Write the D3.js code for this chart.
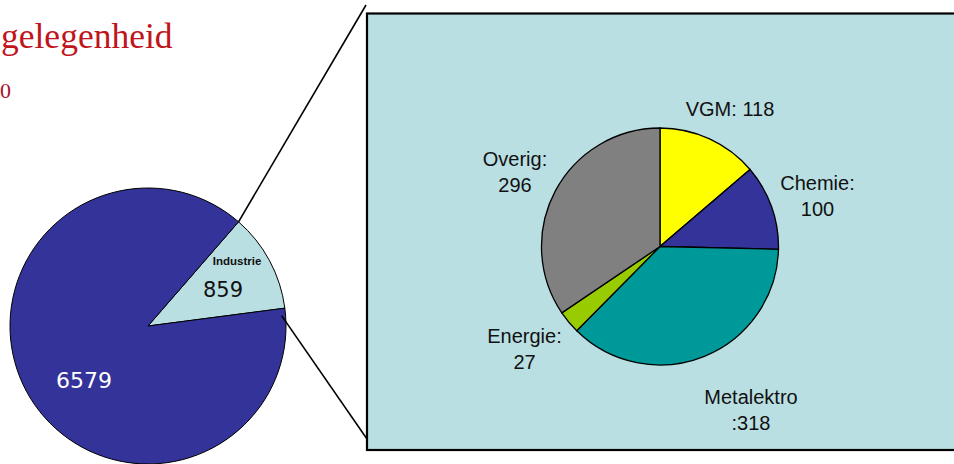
<!DOCTYPE html>
<html>
<head>
<meta charset="utf-8">
<script src="https://cdn.jsdelivr.net/npm/d3@7"></script>
<style>
  html, body { margin: 0; padding: 0; background: #fff; }
  svg { display: block; }
</style>
</head>
<body>
<svg id="chart" width="954" height="464"></svg>
<script>
// ---- data ----
const mainCategories = ["Industrie", "Overig"];
const mainValues = [859, 6579];
const subCategories = ["VGM", "Chemie", "Metalektro", "Energie", "Overig"];
const subValues = [118, 100, 318, 27, 296];
const subLabels = [["VGM: 118"], ["Chemie:", "100"], ["Metalektro", ":318"], ["Energie:", "27"], ["Overig:", "296"]];
const titleText = "gelegenheid";
const subtitleText = "0";

// ---- styles ----
const mainColors = ["#b9dfe3", "#333399"];
const subColors = ["#ffff00", "#333399", "#009999", "#99cc00", "#808080"];

const svg = d3.select("#chart");
const deg = Math.PI / 180;

// title
svg.append("text").attr("x", 1).attr("y", 48).attr("text-anchor", "start")
  .attr("font-family", "Liberation Serif, Times New Roman, serif")
  .attr("font-size", 35.5).attr("fill", "#c0141c").text(titleText);
svg.append("text").attr("x", 0).attr("y", 98).attr("text-anchor", "start")
  .attr("font-family", "Liberation Serif, Times New Roman, serif")
  .attr("font-size", 22).attr("fill", "#a8102c").text(subtitleText);

// detail box
svg.append("rect").attr("x", 367).attr("y", 13.5).attr("width", 620).attr("height", 436.5)
  .attr("fill", "#b9dfe3").attr("stroke", "#000").attr("stroke-width", 2.2);

// main pie
const mcx = 148, mcy = 326, mr = 138;
const mainPie = d3.pie().sort(null).startAngle(41 * deg).endAngle(41 * deg + 2 * Math.PI)(mainValues);
const mainArc = d3.arc().innerRadius(0).outerRadius(mr);
const mg = svg.append("g").attr("transform", `translate(${mcx},${mcy})`);
mg.selectAll("path").data(mainPie).join("path")
  .attr("d", mainArc).attr("fill", (d, i) => mainColors[i])
  .attr("stroke", "#000").attr("stroke-width", 1);

// connector lines from Industrie slice edges to the box
const ind = mainPie[0];
const p1 = [mcx + mr * Math.sin(ind.startAngle), mcy - mr * Math.cos(ind.startAngle)];
const p2 = [mcx + (mr - 4) * Math.sin(ind.endAngle + 3 * deg), mcy - (mr - 4) * Math.cos(ind.endAngle + 3 * deg)];
svg.append("line").attr("x1", p1[0]).attr("y1", p1[1]).attr("x2", 366).attr("y2", 5)
  .attr("stroke", "#000").attr("stroke-width", 1.6);
svg.append("line").attr("x1", p2[0]).attr("y1", p2[1]).attr("x2", 367).attr("y2", 439)
  .attr("stroke", "#000").attr("stroke-width", 1.6);

// main labels
mg.append("text").attr("x", 237 - mcx).attr("y", 265 - mcy).attr("text-anchor", "middle")
  .attr("font-family", "Liberation Sans, Arial, sans-serif").attr("font-weight", "bold")
  .attr("font-size", 11.5).attr("fill", "#111").text(mainCategories[0]);
mg.append("text").attr("x", 223 - mcx).attr("y", 297 - mcy).attr("text-anchor", "middle")
  .attr("font-family", "DejaVu Sans, Verdana, sans-serif")
  .attr("font-size", 21).attr("fill", "#111").text(mainValues[0]);
mg.append("text").attr("x", 84 - mcx).attr("y", 388 - mcy).attr("text-anchor", "middle")
  .attr("font-family", "DejaVu Sans, Verdana, sans-serif")
  .attr("font-size", 22).attr("fill", "#fff").text(mainValues[1]);

// sub pie
const scx = 660, scy = 246.5, sr = 118.5;
const subPie = d3.pie().sort(null)(subValues);
const subArc = d3.arc().innerRadius(0).outerRadius(sr);
const sg = svg.append("g").attr("transform", `translate(${scx},${scy})`);
sg.selectAll("path").data(subPie).join("path")
  .attr("d", subArc).attr("fill", (d, i) => subColors[i])
  .attr("stroke", "#000").attr("stroke-width", 1.3);

// sub labels (centre x, first baseline)
const labelPos = [[730, 116], [817.5, 190], [751, 403.5], [524.5, 342.5], [515, 166]];
subLabels.forEach((lines, i) => {
  const t = svg.append("text").attr("text-anchor", "middle")
    .attr("font-family", "Liberation Sans, Arial, sans-serif")
    .attr("font-size", 20).attr("fill", "#111");
  lines.forEach((s, j) => {
    t.append("tspan").attr("x", labelPos[i][0]).attr("y", labelPos[i][1] + j * 26).text(s);
  });
});
</script>
</body>
</html>
